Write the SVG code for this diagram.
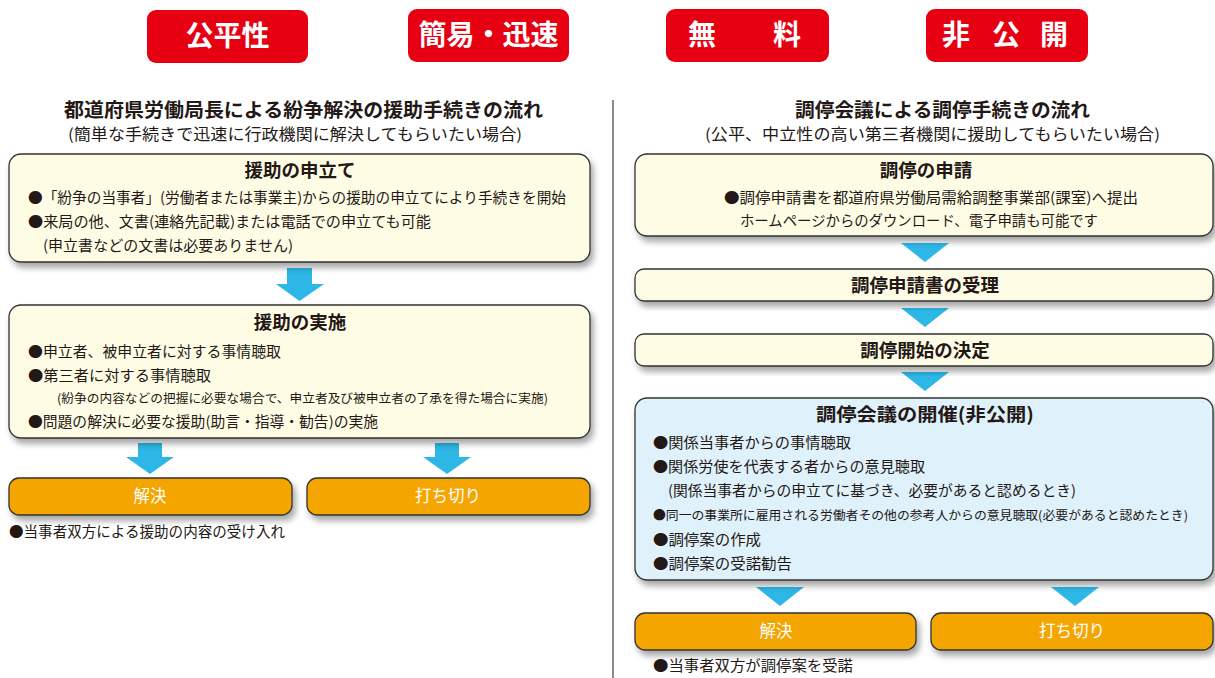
<svg xmlns="http://www.w3.org/2000/svg" width="1215" height="678" viewBox="0 0 1215 678">
<defs>
<filter id="sh" x="-5%" y="-10%" width="115%" height="140%">
<feDropShadow dx="3" dy="5" stdDeviation="3" flood-color="#000" flood-opacity="0.35"/>
</filter>
<style>
text{font-family:"Noto Sans CJK JP","Noto Sans CJK SC",sans-serif;fill:#231815}
.badge{fill:#E60012}
.bt{fill:#fff;font-weight:bold;font-size:28px;text-anchor:middle}
.h{font-weight:bold;font-size:19px;text-anchor:middle}
.sub{font-size:15.5px;text-anchor:middle}
.cream{fill:#FFFCE5;stroke:#333;stroke-width:1.3}
.blue{fill:#DFF1FA;stroke:#333;stroke-width:1.3}
.org{fill:#F5A500;stroke:#333;stroke-width:1.3}
.tt{font-weight:bold;font-size:18.5px;text-anchor:middle}
.b{font-size:14.5px}
.s{font-size:12.5px}
.ot{fill:#fff;font-size:16.5px;text-anchor:middle}
.arr{fill:#2DB7E7}
</style>
</defs>
<rect width="1215" height="678" fill="#fff"/>

<g id="badges">
<rect class="badge" x="147" y="10" width="161" height="53" rx="9"/>
<text class="bt" x="227.5" y="46">公平性</text>
<rect class="badge" x="408" y="9" width="161" height="53" rx="9"/>
<text class="bt" x="488.5" y="45">簡易・迅速</text>
<rect class="badge" x="666" y="9" width="163" height="53" rx="9"/>
<text class="bt" x="702" y="45">無</text>
<text class="bt" x="787" y="45">料</text>
<rect class="badge" x="926" y="9" width="162" height="53" rx="9"/>
<text class="bt" x="956" y="45">非</text>
<text class="bt" x="1006" y="45">公</text>
<text class="bt" x="1054" y="45">開</text>
</g>

<line x1="613" y1="100" x2="613" y2="678" stroke="#666" stroke-width="1.5"/>

<g id="left-heading">
<text class="h" x="303.5" y="117" textLength="479" lengthAdjust="spacingAndGlyphs">都道府県労働局長による紛争解決の援助手続きの流れ</text>
<text class="sub" x="295" y="140" textLength="454" lengthAdjust="spacingAndGlyphs">(簡単な手続きで迅速に行政機関に解決してもらいたい場合)</text>
</g>
<g id="right-heading">
<text class="h" x="942.5" y="117" textLength="295" lengthAdjust="spacingAndGlyphs">調停会議による調停手続きの流れ</text>
<text class="sub" x="932.5" y="140" textLength="455" lengthAdjust="spacingAndGlyphs">(公平、中立性の高い第三者機関に援助してもらいたい場合)</text>
</g>

<g id="connectors">
<path class="arr" d="M287 268H312V284H324L299.5 301L276 284H287Z"/>
<path class="arr" d="M138 443H162V457H174L150 474L126 457H138Z"/>
<path class="arr" d="M435 443H459V457H471L447 474L423 457H435Z"/>
<path class="arr" d="M901 243H949L925 262Z"/>
<path class="arr" d="M901 308H949L925 327Z"/>
<path class="arr" d="M901 372H949L925 391Z"/>
<path class="arr" d="M756 587H804L780 606Z"/>
<path class="arr" d="M1051 587H1099L1075 606Z"/>
</g>

<g id="l-apply">
<rect class="cream" x="9" y="154" width="581" height="108" rx="12" filter="url(#sh)"/>
<text class="tt" x="300" y="177">援助の申立て</text>
<text class="b" x="28" y="203" textLength="538" lengthAdjust="spacingAndGlyphs">●「紛争の当事者」(労働者または事業主)からの援助の申立てにより手続きを開始</text>
<text class="b" x="28" y="227" textLength="403" lengthAdjust="spacingAndGlyphs">●来局の他、文書(連絡先記載)または電話での申立ても可能</text>
<text class="b" x="43" y="251" textLength="250" lengthAdjust="spacingAndGlyphs">(申立書などの文書は必要ありません)</text>
</g>

<g id="l-exec">
<rect class="cream" x="9" y="305" width="581" height="133" rx="12" filter="url(#sh)"/>
<text class="tt" x="300" y="329">援助の実施</text>
<text class="b" x="28" y="357" textLength="253" lengthAdjust="spacingAndGlyphs">●申立者、被申立者に対する事情聴取</text>
<text class="b" x="28" y="381" textLength="183" lengthAdjust="spacingAndGlyphs">●第三者に対する事情聴取</text>
<text class="s" x="57" y="403" textLength="491" lengthAdjust="spacingAndGlyphs">(紛争の内容などの把握に必要な場合で、申立者及び被申立者の了承を得た場合に実施)</text>
<text class="b" x="28" y="427" textLength="350" lengthAdjust="spacingAndGlyphs">●問題の解決に必要な援助(助言・指導・勧告)の実施</text>
</g>

<g id="l-solve">
<rect class="org" x="9" y="478" width="283" height="37" rx="10" filter="url(#sh)"/>
<text class="ot" x="150" y="502">解決</text>
</g>
<g id="l-end">
<rect class="org" x="307" y="478" width="283" height="37" rx="10" filter="url(#sh)"/>
<text class="ot" x="448" y="502">打ち切り</text>
</g>
<text class="b" x="9" y="537" textLength="276" lengthAdjust="spacingAndGlyphs">●当事者双方による援助の内容の受け入れ</text>

<g id="r-apply">
<rect class="cream" x="635" y="154" width="578" height="82" rx="12" filter="url(#sh)"/>
<text class="tt" x="926" y="177">調停の申請</text>
<text class="b" x="724" y="203" textLength="414" lengthAdjust="spacingAndGlyphs">●調停申請書を都道府県労働局需給調整事業部(課室)へ提出</text>
<text class="b" x="740" y="226" textLength="358" lengthAdjust="spacingAndGlyphs">ホームページからのダウンロード、電子申請も可能です</text>
</g>

<g id="r-accept">
<rect class="cream" x="635" y="269" width="578" height="32" rx="9" filter="url(#sh)"/>
<text class="tt" x="925" y="292">調停申請書の受理</text>
</g>

<g id="r-decide">
<rect class="cream" x="635" y="334" width="578" height="32" rx="9" filter="url(#sh)"/>
<text class="tt" x="925" y="357">調停開始の決定</text>
</g>

<g id="r-meeting">
<rect class="blue" x="635" y="398" width="578" height="182" rx="12" filter="url(#sh)"/>
<text class="tt" x="925" y="421" textLength="218" lengthAdjust="spacingAndGlyphs">調停会議の開催(非公開)</text>
<text class="b" x="653" y="448" textLength="198" lengthAdjust="spacingAndGlyphs">●関係当事者からの事情聴取</text>
<text class="b" x="653" y="472" textLength="272" lengthAdjust="spacingAndGlyphs">●関係労使を代表する者からの意見聴取</text>
<text class="b" x="668" y="496" textLength="408" lengthAdjust="spacingAndGlyphs">(関係当事者からの申立てに基づき、必要があると認めるとき)</text>
<text class="s" x="653" y="520" textLength="535" lengthAdjust="spacingAndGlyphs">●同一の事業所に雇用される労働者その他の参考人からの意見聴取(必要があると認めたとき)</text>
<text class="b" x="653" y="545" textLength="108" lengthAdjust="spacingAndGlyphs">●調停案の作成</text>
<text class="b" x="653" y="569" textLength="139" lengthAdjust="spacingAndGlyphs">●調停案の受諾勧告</text>
</g>

<g id="r-solve">
<rect class="org" x="635" y="613" width="281" height="37" rx="10" filter="url(#sh)"/>
<text class="ot" x="776" y="637">解決</text>
</g>
<g id="r-end">
<rect class="org" x="931" y="613" width="282" height="37" rx="10" filter="url(#sh)"/>
<text class="ot" x="1072" y="637">打ち切り</text>
</g>
<text class="b" x="653" y="671" textLength="200" lengthAdjust="spacingAndGlyphs">●当事者双方が調停案を受諾</text>
</svg>
